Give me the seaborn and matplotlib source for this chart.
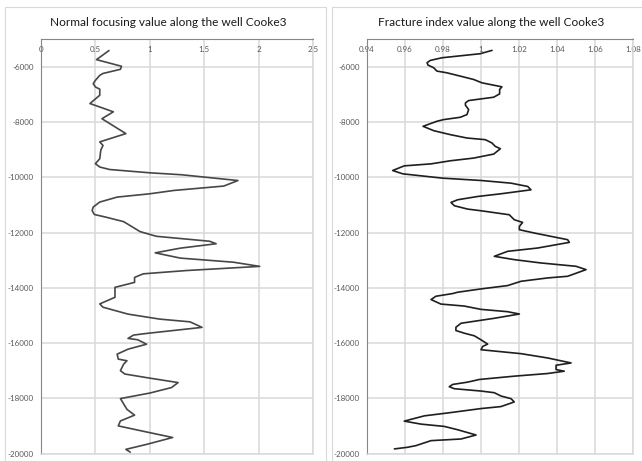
import matplotlib
matplotlib.use("Agg")
import matplotlib.pyplot as plt
import seaborn as sns
from matplotlib.patches import Rectangle

# Normal focusing value along the well (value, depth)
focus_value = [0.625, 0.51, 0.74, 0.73, 0.57, 0.54, 0.50, 0.48, 0.50, 0.54, 0.54, 0.45,
               0.665, 0.56, 0.78, 0.54, 0.57, 0.55, 0.54, 0.50, 0.54, 0.63, 1.00, 1.29,
               1.81, 1.68, 1.22, 1.00, 0.70, 0.54, 0.48, 0.47, 0.49, 0.60, 0.76, 0.86,
               0.91, 1.06, 1.55, 1.61, 1.28, 1.05, 1.28, 1.77, 2.01, 1.34, 0.94, 0.86,
               0.86, 0.68, 0.68, 0.54, 0.57, 0.80, 1.09, 1.37, 1.48, 0.97, 0.85, 0.80,
               0.89, 0.97, 0.80, 0.70, 0.71, 0.79, 0.76, 0.73, 0.77, 1.00, 1.26, 1.20,
               1.00, 0.73, 0.79, 0.86, 0.73, 0.71, 0.97, 1.21, 0.97, 0.78, 0.82]
focus_depth = [-5400, -5730, -5970, -6080, -6230, -6300, -6480, -6600, -6720, -6800, -7020, -7320,
               -7620, -7870, -8410, -8710, -8840, -9000, -9320, -9500, -9620, -9710, -9830, -9900,
               -10110, -10310, -10470, -10590, -10710, -10890, -11070, -11200, -11340, -11440, -11600, -11840,
               -11960, -12130, -12310, -12400, -12560, -12730, -12920, -13070, -13220, -13370, -13490, -13620,
               -13800, -13980, -14340, -14580, -14700, -14950, -15130, -15230, -15430, -15650, -15710, -15830,
               -15880, -16040, -16220, -16400, -16580, -16640, -16760, -17000, -17120, -17270, -17430, -17610,
               -17810, -18010, -18400, -18610, -18820, -19000, -19220, -19420, -19670, -19850, -19950]

# Fracture index value along the well (value, depth)
frac_value = [1.0058, 0.9996, 0.9795, 0.9733, 0.9716, 0.9721, 0.9751, 0.9768, 0.9820, 0.9891,
              0.9961, 1.0005, 1.0110, 1.0098, 1.0098, 1.0067, 0.9935, 0.9918, 0.9918, 0.9935,
              0.9926, 0.9891, 0.9803, 0.9768, 0.9695, 0.9751, 0.9839, 0.9926, 1.0023, 1.0058,
              1.0075, 1.0102, 1.0067, 0.9961, 0.9839, 0.9737, 0.9596, 0.9535, 0.9588, 0.9798,
              1.0000, 1.0158, 1.0246, 1.0263, 1.0105, 0.9983, 0.9877, 0.9842, 0.9860, 0.9930,
              1.0000, 1.0149, 1.0175, 1.0219, 1.0202, 1.0202, 1.0281, 1.0386, 1.0456, 1.0465,
              1.0298, 1.0140, 1.0070, 1.0175, 1.0316, 1.0500, 1.0553, 1.0456, 1.0351, 1.0211,
              1.0140, 1.0000, 0.9877, 0.9851, 0.9763, 0.9737, 0.9789, 0.9912, 1.0000, 1.0140,
              1.0202, 1.0070, 0.9895, 0.9868, 0.9868, 0.9912, 0.9965, 1.0000, 1.0035, 1.0009,
              1.0000, 1.0211, 1.0351, 1.0474, 1.0395, 1.0395, 1.0438, 1.0351, 1.0175, 0.9991,
              0.9930, 0.9851, 0.9833, 0.9860, 1.0000, 1.0070, 1.0105, 1.0158, 1.0175, 1.0105,
              1.0000, 0.9842, 0.9702, 0.9596, 0.9684, 0.9807, 0.9877, 0.9974, 0.9895, 0.9737,
              0.9658, 0.9614, 0.9544]
frac_depth = [-5394, -5515, -5661, -5758, -5842, -5927, -6024, -6145, -6206, -6327,
              -6448, -6570, -6715, -6812, -6970, -7091, -7212, -7297, -7382, -7539,
              -7721, -7818, -7903, -7963, -8145, -8303, -8448, -8569, -8630, -8751,
              -8872, -8957, -9151, -9297, -9394, -9506, -9578, -9747, -9867, -10024,
              -10108, -10205, -10325, -10446, -10590, -10687, -10807, -10904, -11024, -11145,
              -11205, -11350, -11530, -11627, -11771, -11892, -12012, -12157, -12253, -12350,
              -12555, -12675, -12856, -12976, -13097, -13217, -13338, -13579, -13639, -13760,
              -13916, -14037, -14157, -14205, -14302, -14422, -14586, -14658, -14778, -14862,
              -14946, -15101, -15281, -15425, -15545, -15641, -15736, -15880, -16036, -16120,
              -16240, -16383, -16539, -16719, -16803, -16958, -17018, -17102, -17198, -17318,
              -17414, -17498, -17581, -17653, -17737, -17797, -17917, -18013, -18132, -18300,
              -18372, -18516, -18636, -18827, -18935, -19019, -19139, -19330, -19474, -19534,
              -19714, -19774, -19834]

depth_ticks = [-20000, -18000, -16000, -14000, -12000, -10000, -8000, -6000]
focus_ticks = [0, 0.5, 1, 1.5, 2, 2.5]
focus_tick_labels = ["0", "0.5", "1", "1.5", "2", "2.5"]
frac_ticks = [0.94, 0.96, 0.98, 1.00, 1.02, 1.04, 1.06, 1.08]
frac_tick_labels = ["0.94", "0.96", "0.98", "1", "1.02", "1.04", "1.06", "1.08"]

titles = ["Normal focusing value along the well Cooke3",
          "Fracture index value along the well Cooke3"]

sns.set_theme(style="white")
plt.rcParams["font.family"] = ["Lato", "DejaVu Sans"]

W, H = 642, 461
fig = plt.figure(figsize=(W / 100, H / 100), dpi=100)
fig.patch.set_facecolor("white")

GRID = "#d9d9d9"
AXIS = "#868686"
LABEL = "#595959"


def fx(px):
    return px / W


def fy(py):
    return 1 - py / H


# chart frames
for x0, x1 in [(5, 326), (332, 660)]:
    fig.add_artist(Rectangle((fx(x0), fy(470)), fx(x1 - x0), (470 - 7) / H,
                             transform=fig.transFigure, fill=False,
                             edgecolor=GRID, linewidth=0.8))

top, bottom = 39.5, 453.5
ax1 = fig.add_axes([fx(41), fy(bottom), fx(313 - 41), (bottom - top) / H])
ax2 = fig.add_axes([fx(367), fy(bottom), fx(633 - 367), (bottom - top) / H])

sns.lineplot(x=focus_value, y=focus_depth, sort=False, estimator=None,
             color="#474747", linewidth=1.2, ax=ax1)
sns.lineplot(x=frac_value, y=frac_depth, sort=False, estimator=None,
             color="#1f1f1f", linewidth=1.2, ax=ax2)

panels = [
    (ax1, (0, 2.5), focus_ticks, focus_tick_labels),
    (ax2, (0.94, 1.08), frac_ticks, frac_tick_labels),
]
for ax, xlim, xt, xtl in panels:
    ax.set_xlim(*xlim)
    ax.set_ylim(-20000, -5000)
    ax.set_xticks(xt)
    ax.set_xticklabels(xtl)
    ax.set_yticks(depth_ticks)
    ax.set_yticklabels([str(v) for v in depth_ticks])
    ax.grid(True, color=GRID, linewidth=1.1)
    ax.set_axisbelow(True)
    ax.xaxis.set_ticks_position("top")
    ax.tick_params(axis="x", top=True, bottom=False, labeltop=True, labelbottom=False,
                   length=0, pad=-10, labelsize=5.8, labelcolor=LABEL)
    ax.tick_params(axis="y", left=True, length=0, pad=5, labelsize=5.8, labelcolor=LABEL)
    ax.set_xlabel("")
    ax.set_ylabel("")
    for side in ["top", "left"]:
        ax.spines[side].set_color(AXIS)
        ax.spines[side].set_linewidth(0.8)
    for side in ["right", "bottom"]:
        ax.spines[side].set_color(GRID)
        ax.spines[side].set_linewidth(1.1)
    ax.set_facecolor("none")

fig.text(fx(168), fy(23), titles[0], ha="center", va="center", fontsize=8.6, color="#1a1a1a")
fig.text(fx(491), fy(23), titles[1], ha="center", va="center", fontsize=8.6, color="#1a1a1a")

fig.savefig("out.png", dpi=100, facecolor="white")
